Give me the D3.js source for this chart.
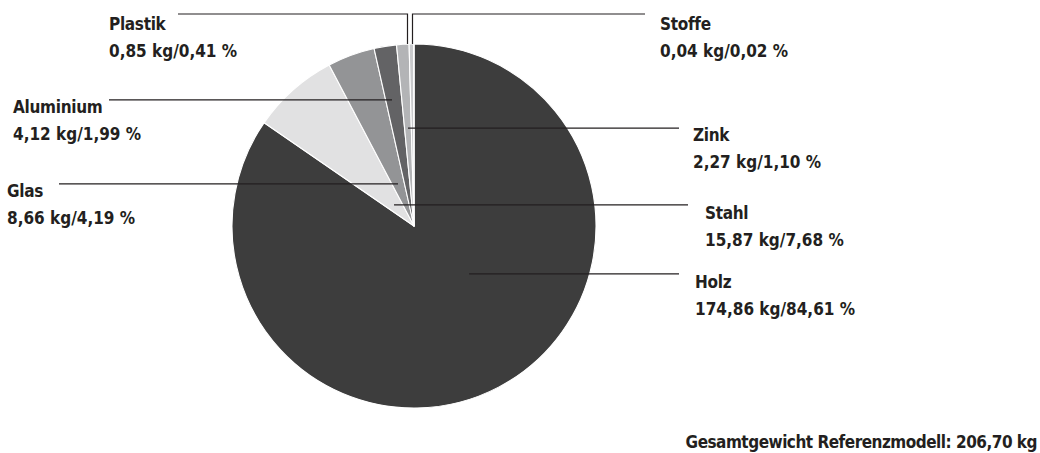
<!DOCTYPE html>
<html>
<head>
<meta charset="utf-8">
<script src="https://cdn.jsdelivr.net/npm/d3@7"></script>
<style>
  body { margin: 0; background: #fff; }
  text { font-family: "DejaVu Sans Condensed", "Liberation Sans Narrow", sans-serif; font-weight: bold; fill: #231f20; }
</style>
</head>
<body>
<div id="chart"></div>
<script>
// data, in pie order (clockwise from 12 o'clock)
var materials = ["Holz", "Stahl", "Glas", "Aluminium", "Zink", "Plastik", "Stoffe"];
var weights   = [174.86, 15.87, 8.66, 4.12, 2.27, 0.85, 0.04];
var weightLabels  = ["174,86", "15,87", "8,66", "4,12", "2,27", "0,85", "0,04"];
var percentLabels = ["84,61", "7,68", "4,19", "1,99", "1,10", "0,41", "0,02"];
var totalLabel = "Gesamtgewicht Referenzmodell: 206,70 kg";

var colors = ["#3d3d3d", "#e1e1e2", "#939496", "#636365", "#b3b4b6", "#c9cacc", "#dcdcdd"];

// label layout: text position, leader line (t = position inside slice, r = radius, ex = outer end x, vx = vertical leader x)
var labelLayout = {
    "Holz":      { x: 695, y: 288, t: 0.43, r: 73,  ex: 679 },
    "Stahl":     { x: 705, y: 219, t: 0.43, r: 29,  ex: 688 },
    "Glas":      { x: 7,   y: 197, t: 0.46, r: 45,  ex: 59 },
    "Aluminium": { x: 13,  y: 113, t: 0.39, r: 128, ex: 109 },
    "Zink":      { x: 693, y: 141, t: 0.5,  r: 98,  ex: 679 },
    "Plastik":   { x: 109, y: 30,  vx: 407.5, vy: 14, ex: 178 },
    "Stoffe":    { x: 660, y: 30,  vx: 412.5, vy: 14, ex: 645 }
};

var width = 1040, height = 453;
var cx = 414, cy = 226, radius = 182;

var svg = d3.select("#chart")
    .append("svg")
    .attr("width", width)
    .attr("height", height);

var pie = d3.pie()
    .sort(null)
    .value(function(d) { return d.w; });

var data = materials.map(function(m, i) {
    return { name: m, w: weights[i], kg: weightLabels[i], pct: percentLabels[i], color: colors[i] };
});
var arcs = pie(data);

var arc = d3.arc()
    .innerRadius(0)
    .outerRadius(radius);

var g = svg.append("g")
    .attr("transform", "translate(" + cx + "," + cy + ")");

g.selectAll("path")
    .data(arcs)
    .enter()
    .append("path")
    .attr("d", arc)
    .attr("fill", function(d) { return d.data.color; })
    .attr("stroke", "#fff")
    .attr("stroke-width", 1.1)
    .attr("stroke-linejoin", "round");

// leader lines
var lines = svg.append("g")
    .attr("fill", "none")
    .attr("stroke", "#231f20")
    .attr("stroke-width", 1.2);

arcs.forEach(function(d) {
    var L = labelLayout[d.data.name];
    var pts;
    if (L.vx !== undefined) {
        // vertical leader up from the rim, then across
        var rimY = cy - Math.sqrt(radius * radius - (L.vx - cx) * (L.vx - cx));
        pts = [[L.vx, rimY], [L.vx, L.vy], [L.ex, L.vy]];
    } else {
        var a = d.startAngle + L.t * (d.endAngle - d.startAngle);
        var p = d3.pointRadial(a, L.r);
        var px = cx + p[0], py = cy + p[1];
        pts = [[px, py], [L.ex, py]];
    }
    lines.append("path").attr("d", d3.line()(pts));
});

// labels
var labels = svg.append("g")
    .attr("font-size", 17);

arcs.forEach(function(d) {
    var L = labelLayout[d.data.name];
    labels.append("text")
        .attr("x", L.x)
        .attr("y", L.y)
        .attr("letter-spacing", -0.3)
        .text(d.data.name);
    labels.append("text")
        .attr("x", L.x)
        .attr("y", L.y + 27)
        .text(d.data.kg + " kg/" + d.data.pct + " %");
});

labels.append("text")
    .attr("x", 1037)
    .attr("y", 448)
    .attr("text-anchor", "end")
    .attr("letter-spacing", -0.5)
    .text(totalLabel);
</script>
</body>
</html>
